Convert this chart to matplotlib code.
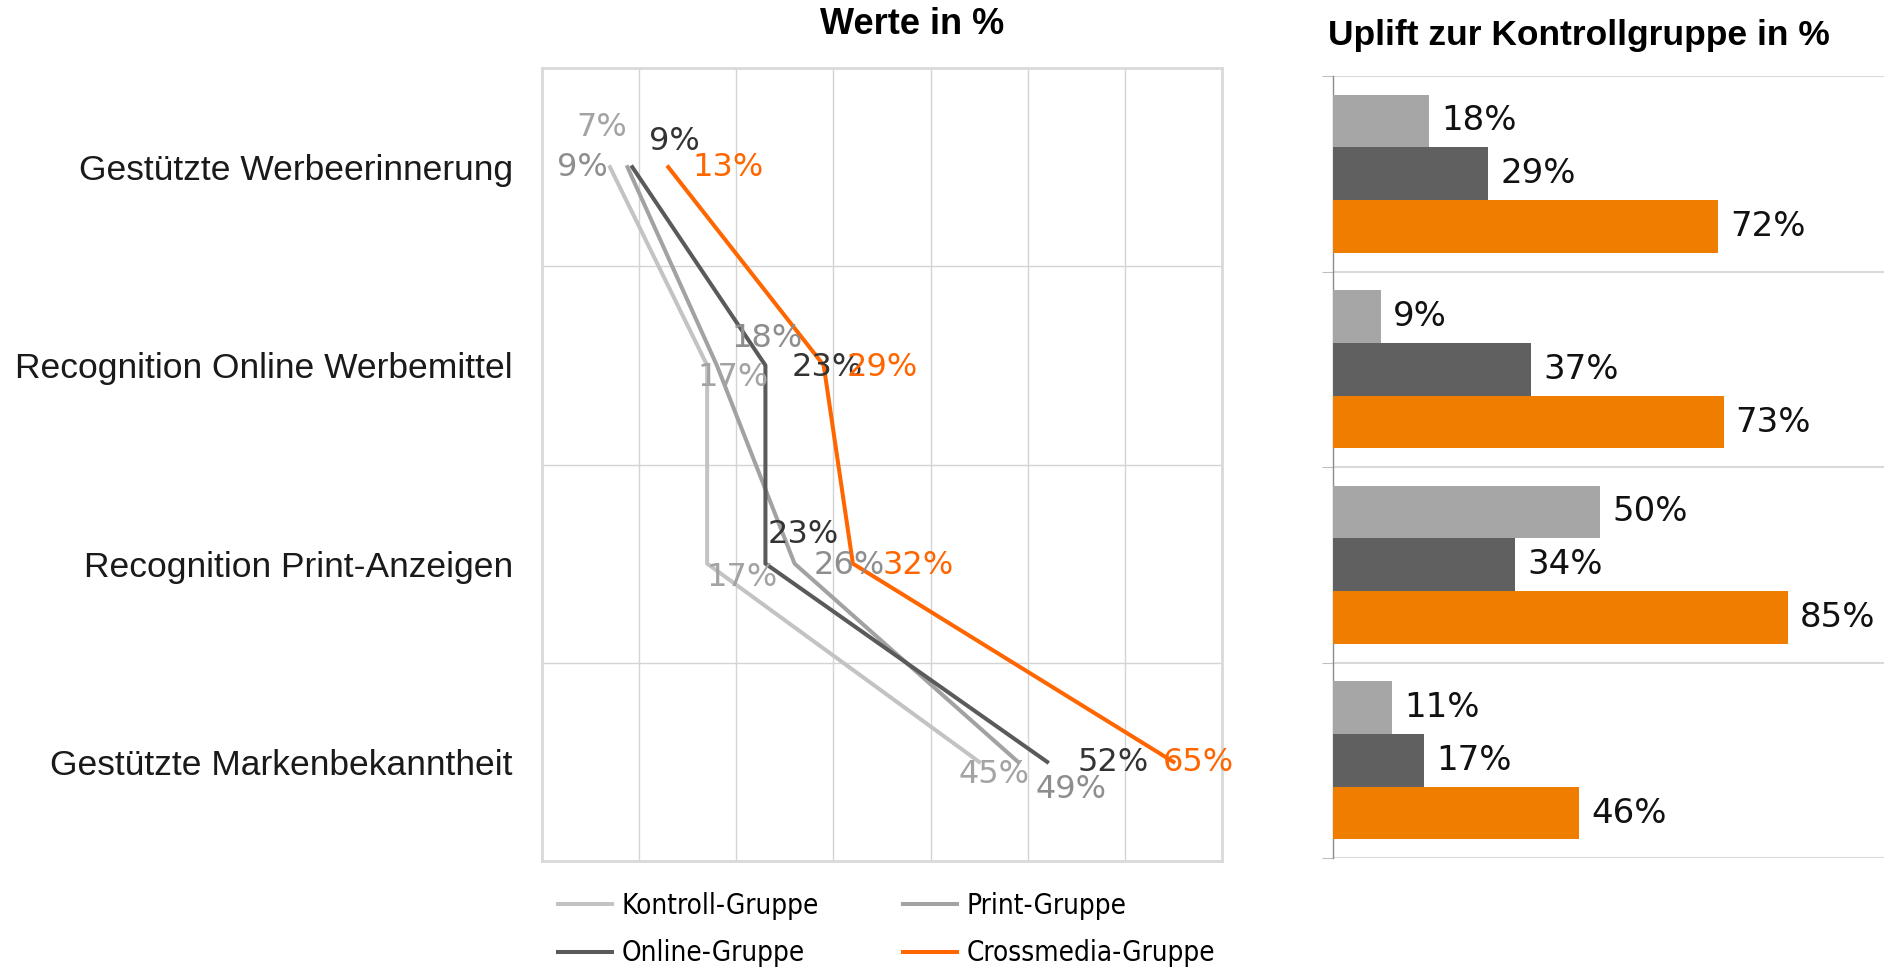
import matplotlib
matplotlib.use("Agg")
import matplotlib.pyplot as plt

# left chart: values in %
categories = ["Gestützte Werbeerinnerung", "Recognition Online Werbemittel",
              "Recognition Print-Anzeigen", "Gestützte Markenbekanntheit"]
kontroll = [7, 17, 17, 45]
print_grp = [8.8, 18, 26, 49]
online = [9.3, 23, 23, 52]
crossmedia = [13, 29, 32, 65]

# right chart: uplift vs. control group in %
uplift_print = [18, 9, 50, 11]
uplift_online = [29, 37, 34, 17]
uplift_cross = [72, 73, 85, 46]

plt.rcParams['font.family'] = ['DejaVu Sans']

fig = plt.figure(figsize=(18.88, 9.67), dpi=100)
ax1 = fig.add_axes([542 / 1888, 1 - 861 / 967, 680 / 1888, 793 / 967])
ax2 = fig.add_axes([1333 / 1888, 1 - 858 / 967, 551 / 1888, 782 / 967])

ypos = [i + 0.5 for i in range(len(categories))]

# series: (name, values, line colour, label colour, label offsets in px)
series = [
    ("Kontroll-Gruppe", kontroll, "#c3c3c3", "#a3a3a3",
     [(-8, 40), (26, -12), (35, -14), (15, -13)]),
    ("Print-Gruppe", print_grp, "#a2a2a2", "#8e8e8e",
     [(-45, 0), (50, 27), (55, -2), (53, -28)]),
    ("Online-Gruppe", online, "#5a5a5a", "#333333",
     [(42, 26), (62, -2), (38, 29), (66, -1)]),
    ("Crossmedia-Gruppe", crossmedia, "#ff6600", "#ff6600",
     [(60, 0), (59, -2), (65, -2), (25, -1)]),
]

lines = {}
for name, vals, col, lcol, offs in series:
    ln, = ax1.plot(vals, ypos, color=col, lw=2.9, zorder=3)
    lines[name] = ln
for name, vals, col, lcol, offs in series:
    for v, y, (dx, dy) in zip(vals, ypos, offs):
        ax1.annotate(f"{v:.0f}%", (v, y), xytext=(dx, dy), textcoords='offset pixels',
                     ha='center', va='center', fontsize=23, color=lcol, zorder=5)

ax1.set_xlim(0, 70)
ax1.set_ylim(4, 0)
ax1.set_xticks(range(10, 70, 10))
ax1.set_yticks([1, 2, 3], minor=False)
ax1.grid(True, color="#d4d4d4", lw=1)
ax1.tick_params(axis='both', length=0, labelbottom=False, labelleft=False)
ax1.set_yticks(ypos, minor=True)
ax1.set_yticklabels(categories, minor=True, fontsize=25.5, color="#1a1a1a",
                    family=['Liberation Sans', 'DejaVu Sans'])
ax1.tick_params(axis='y', which='minor', length=0, pad=21)
for sp in ax1.spines.values():
    sp.set_color("#d9d9d9")
    sp.set_linewidth(2)

fig.text(912 / 1888, 1 - 25 / 967, "Werte in %", ha='center', va='center',
         fontsize=26, fontweight='bold', family=['Liberation Sans', 'DejaVu Sans'])

handles = [lines["Kontroll-Gruppe"], lines["Online-Gruppe"],
           lines["Print-Gruppe"], lines["Crossmedia-Gruppe"]]
labels = ["Kontroll-Gruppe", "Online-Gruppe", "Print-Gruppe", "Crossmedia-Gruppe"]
fig.legend(handles, labels, loc='upper left', bbox_to_anchor=(558 / 1888, 1 - 892 / 967),
           ncol=2, frameon=False, borderpad=0, borderaxespad=0, handlelength=1.95,
           handletextpad=0.35, columnspacing=3.0, labelspacing=0.7,
           prop={'family': ['DejaVu Sans'], 'stretch': 'condensed', 'size': 20})

# right chart
bh = 0.27
bar_series = [(uplift_print, "#a6a6a6", -bh), (uplift_online, "#606060", 0),
              (uplift_cross, "#ef7d00", bh)]
for vals, col, off in bar_series:
    yy = [y + off for y in ypos]
    ax2.barh(yy, vals, height=bh, color=col, zorder=3)
    for v, y in zip(vals, yy):
        ax2.annotate(f"{v}%", (v, y), xytext=(12, 0), textcoords='offset pixels',
                     ha='left', va='center', fontsize=24.5, color="#111111")

ax2.set_xlim(0, 103)
ax2.set_ylim(4, 0)
ax2.set_yticks([0, 1, 2, 3, 4])
ax2.set_xticks([])
ax2.yaxis.grid(True, color="#d9d9d9", lw=1.5, zorder=0)
ax2.tick_params(axis='y', length=8, color="#bfbfbf", labelleft=False)
for s in ['top', 'right', 'bottom']:
    ax2.spines[s].set_visible(False)
ax2.spines['left'].set_color("#8c8c8c")
ax2.spines['left'].set_linewidth(1)

fig.text(1579 / 1888, 1 - 36 / 967, "Uplift zur Kontrollgruppe in %", ha='center',
         va='center', fontsize=25.5, fontweight='bold', family=['Liberation Sans', 'DejaVu Sans'])

fig.savefig("out.png", dpi=100)
